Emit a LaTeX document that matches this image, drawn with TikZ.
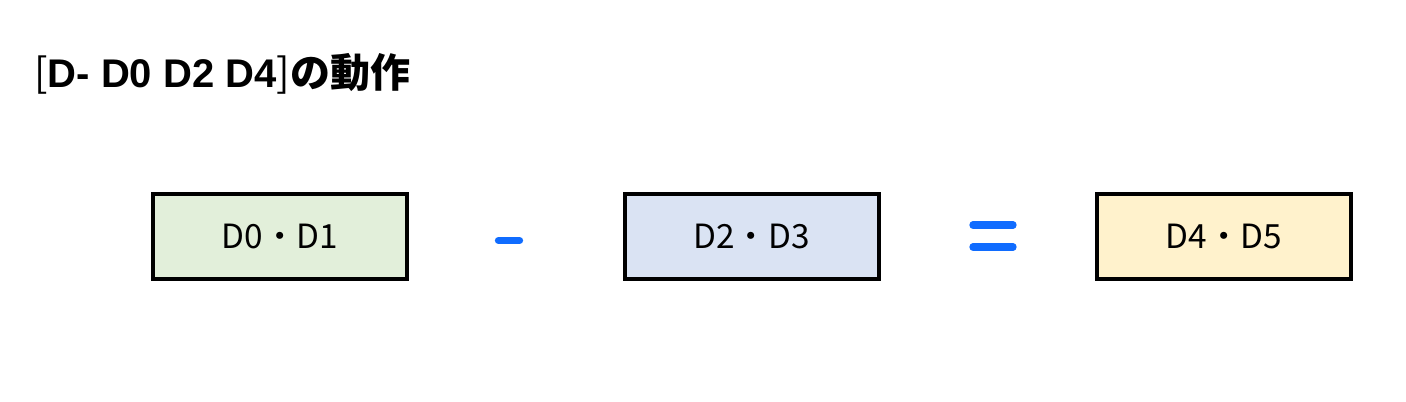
\documentclass[tikz,border=0pt]{standalone}
\usepackage{fontspec}
\usepackage{xcolor}
\setmainfont{Liberation Sans}
\newfontfamily\jpfont{Noto Sans CJK JP}

\definecolor{boxgreen}{HTML}{E2EFDA}
\definecolor{boxblue}{HTML}{DAE3F3}
\definecolor{boxyellow}{HTML}{FFF2CC}
\definecolor{opblue}{RGB}{16,108,255}

\tikzset{
  regbox/.style={draw=black, line width=3pt, minimum width=190.5pt, minimum height=63.75pt,
    inner sep=0pt, font=\jpfont\fontsize{25pt}{30pt}\selectfont},
  opbar/.style={draw=opblue, line width=5.5pt, line cap=round}
}

\begin{document}
\begin{tikzpicture}[x=0.75pt, y=-0.75pt]
\useasboundingbox (0,0) rectangle (1406,402);

\node[anchor=base west, inner sep=0pt, font=\fontsize{30pt}{36pt}\selectfont] (title) at (34,88)
  {{\jpfont[}\textbf{D- D0 D2 D4}{\jpfont]\bfseries の動作}};

\node[regbox, fill=boxgreen] (src) at (280,236.5) {D0・D1};
\node[regbox, fill=boxblue] (sub) at (751.5,236.5) {D2・D3};
\node[regbox, fill=boxyellow] (res) at (1224,236.5) {D4・D5};

% minus
\draw[opbar] (498.5,240.5)--(519.5,240.5);
% equals
\draw[opbar] (973,225)--(1013,225);
\draw[opbar] (973,247)--(1013,247);
\end{tikzpicture}
\end{document}
